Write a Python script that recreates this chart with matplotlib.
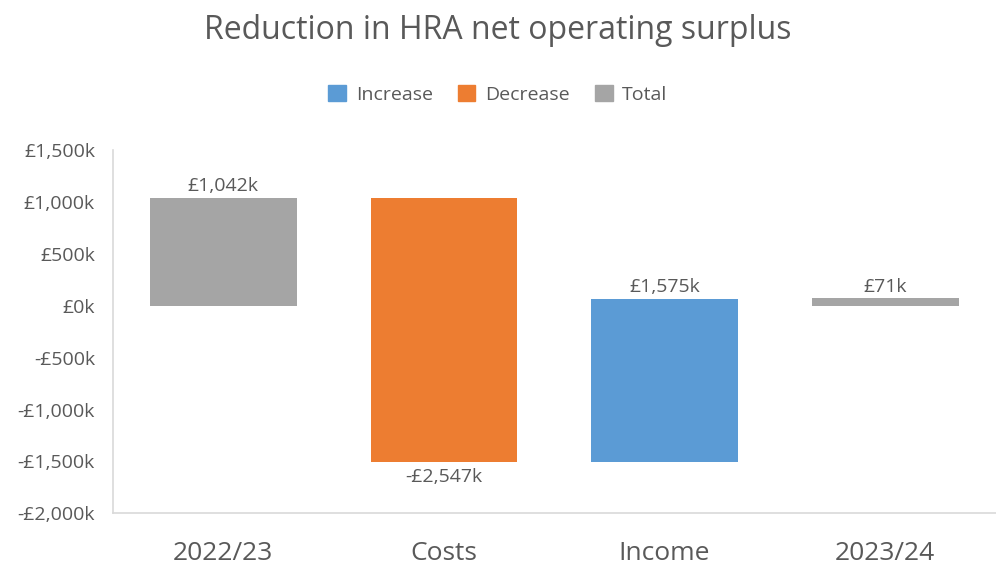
import matplotlib.pyplot as plt
from matplotlib.patches import Patch

plt.rcParams['font.family'] = ['Open Sans', 'DejaVu Sans']

# waterfall data (in £k)
categories = ['2022/23', 'Costs', 'Income', '2023/24']
changes = [1042, -2547, 1575, 71]
kinds = ['total', 'decrease', 'increase', 'total']
labels = ['£1,042k', '-£2,547k', '£1,575k', '£71k']
yticks = [-2000, -1500, -1000, -500, 0, 500, 1000, 1500]
ytick_labels = ['-£2,000k', '-£1,500k', '-£1,000k', '-£500k', '£0k', '£500k', '£1,000k', '£1,500k']

colours = {'increase': '#5b9bd5', 'decrease': '#ed7d31', 'total': '#a5a5a5'}
text_col = '#595959'

fig = plt.figure(figsize=(9.96, 5.69), dpi=100)
ax = fig.add_axes([0.1135, 0.098, 0.886, 0.638])

running = 0
for i, (cat, val, kind, lab) in enumerate(zip(categories, changes, kinds, labels)):
    if kind == 'total':
        bottom = 0
        height = val
        running = val
    else:
        bottom = running
        height = val
        running = running + val
    ax.bar(i, height, bottom=bottom, width=0.665, color=colours[kind])
    top = max(bottom, bottom + height)
    low = min(bottom, bottom + height)
    if kind == 'decrease':
        ax.text(i, low - 60, lab, ha='center', va='top', fontsize=14, color=text_col)
    else:
        ax.text(i, top + 25, lab, ha='center', va='bottom', fontsize=14, color=text_col)

ax.set_xlim(-0.5, 3.5)
ax.set_ylim(-2000, 1500)
ax.set_yticks(yticks)
ax.set_yticklabels(ytick_labels, fontsize=14, color=text_col)
ax.set_xticks(range(len(categories)))
ax.set_xticklabels(categories, fontsize=19, color=text_col)
ax.tick_params(axis='both', length=0)
ax.tick_params(axis='x', pad=20)
ax.tick_params(axis='y', pad=13)

for s in ['top', 'right']:
    ax.spines[s].set_visible(False)
ax.spines['left'].set_color('#d9d9d9')
ax.spines['bottom'].set_color('#d9d9d9')
ax.spines['left'].set_linewidth(1.2)
ax.spines['bottom'].set_linewidth(1.2)

fig.text(0.5, 0.947, 'Reduction in HRA net operating surplus', ha='center', va='center',
         fontsize=23, color=text_col)

handles = [Patch(color=colours['increase'], label='Increase'),
           Patch(color=colours['decrease'], label='Decrease'),
           Patch(color=colours['total'], label='Total')]
fig.legend(handles=handles, loc='center', bbox_to_anchor=(0.5, 0.834), ncol=3, frameon=False,
           fontsize=14, labelcolor=text_col, handlelength=0.9, handleheight=0.9,
           columnspacing=1.3, handletextpad=0.5)

fig.savefig('out.png', dpi=100)
